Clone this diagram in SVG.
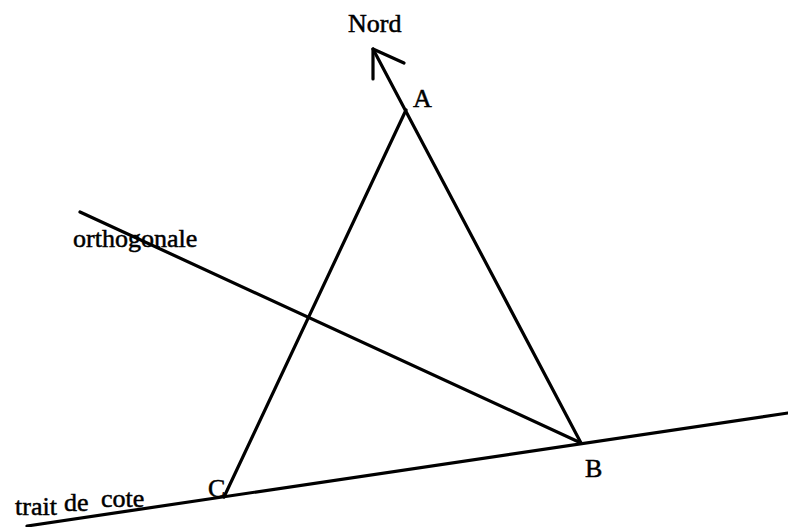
<svg xmlns="http://www.w3.org/2000/svg" width="788" height="527" viewBox="0 0 788 527">
<style>
.ln{stroke:#000;stroke-width:3.2;fill:none;stroke-linecap:round;stroke-linejoin:round}
.t{font-family:"Liberation Serif","Times New Roman",serif;font-size:26px;fill:#000;stroke:#000;stroke-width:0.5}
</style>
<rect width="788" height="527" fill="#fff"/>
<g id="connectors">
<path class="ln" d="M581,443 L373,49"/>
<path class="ln" d="M373,79 L373,49 L404,63"/>
<path class="ln" d="M406,110 L224,497"/>
<path class="ln" d="M80,212 L581,443"/>
<path class="ln" d="M27,526 L788,413"/>
</g>
<g id="nord"><text class="t" x="348" y="32">Nord</text></g>
<g id="A"><text class="t" x="413" y="107">A</text></g>
<g id="B"><text class="t" x="585" y="477">B</text></g>
<g id="C"><text class="t" x="208" y="497">C</text></g>
<g id="orthogonale"><text class="t" x="73" y="247">orthogonale</text></g>
<g id="trait-de-cote">
<text class="t" x="15" y="515">trait</text>
<text class="t" x="64" y="511">de</text>
<text class="t" x="101" y="507">cote</text>
</g>
</svg>
